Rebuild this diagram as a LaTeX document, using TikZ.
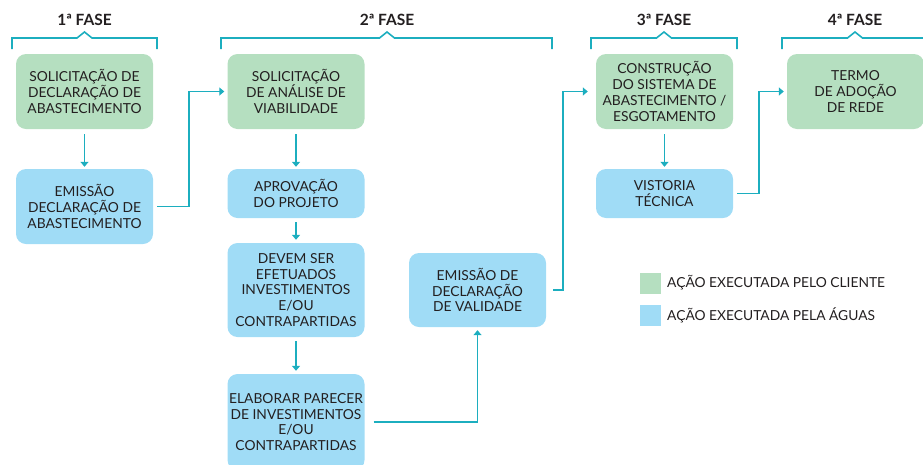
\documentclass[tikz,border=0pt]{standalone}
\usepackage{fontspec}
\setmainfont{Lato}
\usetikzlibrary{arrows.meta}

\definecolor{cliente}{HTML}{B5DFC0}
\definecolor{aguas}{HTML}{A0DCF6}
\definecolor{linha}{HTML}{1CAEBF}
\definecolor{texto}{HTML}{231F20}

\tikzset{
  etapa/.style={rounded corners=10pt, align=center, inner sep=0pt,
    minimum width=137pt, text=texto, font=\fontsize{13.8}{15.8}\selectfont},
  cli/.style={etapa, fill=cliente},
  agu/.style={etapa, fill=aguas},
  seta/.style={draw=linha, line width=1.7pt, -{Triangle[width=8pt,length=5pt]},
    shorten <=4pt, shorten >=3pt},
  chave/.style={draw=linha, line width=1.6pt},
  fase/.style={font=\bfseries\fontsize{15.5}{18}\selectfont, text=texto},
  legenda/.style={font=\fontsize{13.8}{16}\selectfont, text=texto, anchor=west, inner sep=0pt}
}

\begin{document}
\begin{tikzpicture}[x=1pt, y=-1pt]
      \useasboundingbox (0,0) rectangle (923,464);

      % fases
      \foreach \a/\m/\b/\n in {12/84.5/157/1, 221/387/552/2, 591/664/737/3, 782/855/930/4} {
        \draw[chave] (\a,49) -- (\a,38) -- (\m-7.5,38) -- (\m,32) -- (\m+7.5,38) -- (\b,38) -- (\b,49);
        \node[fase] (fase\n) at (\m,20) {\n ª FASE};
      }

      % etapas
      \node[cli, minimum height=75pt] (solic) at (84.5,91.5) {SOLICITAÇÃO DE\\DECLARAÇÃO DE\\ABASTECIMENTO};
      \node[agu, minimum height=75pt] (emissao) at (84.5,206.5) {EMISSÃO\\DECLARAÇÃO DE\\ABASTECIMENTO};

      \node[cli, minimum height=75pt] (analise) at (296,91.5) {SOLICITAÇÃO\\DE ANÁLISE DE\\VIABILIDADE};
      \node[agu, minimum height=49pt] (aprov) at (296,193.5) {APROVAÇÃO\\DO PROJETO};
      \node[agu, minimum height=94pt] (invest) at (296,290) {DEVEM SER\\EFETUADOS\\INVESTIMENTOS\\E/OU\\CONTRAPARTIDAS};
      \node[agu, minimum height=96pt] (parecer) at (296,422) {ELABORAR PARECER\\DE INVESTIMENTOS\\E/OU\\CONTRAPARTIDAS};
      \node[agu, minimum height=74pt] (validade) at (477.5,290) {EMISSÃO DE\\DECLARAÇÃO\\DE VALIDADE};

      \node[cli, minimum height=75pt] (constr) at (664.5,91.5) {CONSTRUÇÃO\\DO SISTEMA DE\\ABASTECIMENTO /\\ESGOTAMENTO};
      \node[agu, minimum height=49pt] (vistoria) at (664.5,193.5) {VISTORIA\\TÉCNICA};

      \node[cli, minimum height=75pt] (termo) at (855.5,91.5) {TERMO\\DE ADOÇÃO\\DE REDE};

      % ligacoes
      \draw[seta, shorten <=5pt, shorten >=2pt] (solic) -- (emissao);
      \draw[seta] (emissao.east) -- ++(36,0) |- (analise.west);
      \draw[seta, shorten <=5pt, shorten >=2pt] (analise) -- (aprov);
      \draw[seta] (aprov) -- (invest);
      \draw[seta] (invest) -- (parecer);
      \draw[seta, shorten <=9pt] (parecer.east) -| (validade.south);
      \draw[seta, shorten <=7pt, shorten >=8pt] (validade.east) -- ++(17,0) |- (constr.west);
      \draw[seta, shorten <=5pt, shorten >=2pt] (constr) -- (vistoria);
      \draw[seta] (vistoria.east) -- ++(26,0) |- (termo.west);

      % legenda
      \node[fill=cliente, minimum size=21pt, inner sep=0pt] (corcli) at (650.5,283) {};
      \node[fill=aguas, minimum size=21pt, inner sep=0pt] (coragu) at (650.5,315.5) {};
      \node[legenda] (txtcli) at (667,283) {AÇÃO EXECUTADA PELO CLIENTE};
      \node[legenda] (txtagu) at (667,315.5) {AÇÃO EXECUTADA PELA ÁGUAS};
    \end{tikzpicture}
\end{document}
